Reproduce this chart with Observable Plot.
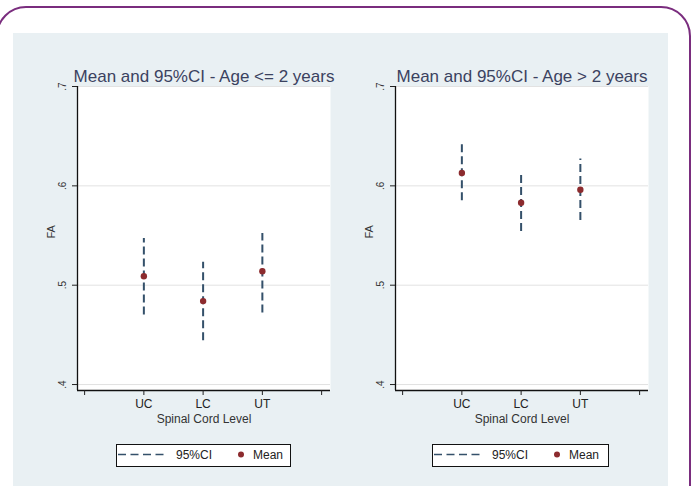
<!DOCTYPE html>
<html><head><meta charset="utf-8">
<script src="https://cdn.jsdelivr.net/npm/d3@7"></script>
<script src="https://cdn.jsdelivr.net/npm/@observablehq/plot@0.6"></script>
<style>
html,body{margin:0;padding:0;background:#fff;overflow:hidden;}
#root{position:relative;width:696px;height:486px;overflow:hidden;font-family:"Liberation Sans",Arial,sans-serif;}
#border{position:absolute;left:-4px;top:6px;width:695px;height:530px;border:2px solid #7a2d7e;border-radius:30px;box-sizing:border-box;}
#panel{position:absolute;left:13px;top:33px;width:655px;height:470px;background:#e9f0f3;}
.legend{position:absolute;top:444px;height:23px;box-sizing:border-box;border:1.5px solid #111;background:#fff;}
.legend svg{display:block;}
</style></head><body><div id="root"><div id="border"></div><div id="panel"></div></div>
<script>
const levels = ["UC", "LC", "UT"];
const meanYoung = [0.509, 0.484, 0.514];
const lowYoung = [0.470, 0.444, 0.472];
const highYoung = [0.547, 0.523, 0.552];
const meanOld = [0.613, 0.583, 0.596];
const lowOld = [0.585, 0.554, 0.565];
const highOld = [0.642, 0.612, 0.627];
const titles = ["Mean and 95%CI - Age <= 2 years", "Mean and 95%CI - Age > 2 years"];
const yTicks = [0.4, 0.5, 0.6, 0.7];
const xTicks = [0, 1, 2, 3, 4];
const yLabel = "FA";
const xLabel = "Spinal Cord Level";
const legendItems = ["95%CI", "Mean"];

const ciColor = "#34506a", meanColor = "#8c2b2e";
const root = document.getElementById("root");

function panel(title, mean, low, high, left) {
  const rows = levels.map((l, i) => ({pos: i + 1, level: l, mean: mean[i], low: low[i], high: high[i]}));
  const yDomain = [0.394, 0.7];
  const xDomain = [-0.12, 4.15];
  const svg = Plot.plot({
    width: 327, height: 395,
    marginLeft: 64, marginRight: 10, marginTop: 46, marginBottom: 45,
    style: {background: "transparent", fontFamily: "Liberation Sans, Arial, sans-serif", color: "#222", overflow: "visible"},
    x: {domain: xDomain},
    y: {domain: yDomain},
    marks: [
      Plot.frame({fill: "white", stroke: null}),
      Plot.gridY(yTicks, {stroke: "#e2e2e2", strokeOpacity: 1}),
      Plot.ruleX(rows, {x: "pos", y1: "low", y2: "high", stroke: ciColor, strokeWidth: 2, strokeDasharray: "8,4"}),
      Plot.dot(rows, {x: "pos", y: "mean", r: 3.2, fill: meanColor, stroke: null}),
      Plot.ruleX([xDomain[0]], {stroke: "#111", strokeWidth: 1.3}),
      Plot.ruleY([yDomain[0]], {stroke: "#111", strokeWidth: 1.3}),
      Plot.axisY(yTicks, {tickSize: 5, tickFormat: () => "", label: null}),
      Plot.text(yTicks, {y: d => d, text: d => d3.format(".1f")(d).replace(/^0/, ""), frameAnchor: "left", dx: -15, rotate: -90, textAnchor: "middle", fontSize: 10, fill: "#333"}),
      Plot.axisX(xTicks, {tickSize: 5, tickFormat: d => levels[d - 1] ?? "", fontSize: 12, label: null}),
      Plot.text([yLabel], {frameAnchor: "left", dx: -26, rotate: -90, fontSize: 11, fill: "#333"}),
      Plot.text([xLabel], {frameAnchor: "bottom", dy: 32, fontSize: 12, fill: "#333"}),
      Plot.text([title], {frameAnchor: "top", dy: -17, fontSize: 17, fill: "#3b4260"})
    ]
  });
  svg.style.position = "absolute";
  svg.style.left = left + "px";
  svg.style.top = "40px";
  root.appendChild(svg);
}

function legend(left, width) {
  const div = document.createElement("div");
  div.className = "legend";
  div.style.left = left + "px";
  div.style.width = width + "px";
  const svg = d3.select(div).append("svg").attr("width", width - 3).attr("height", 20)
    .style("font-family", "Liberation Sans, Arial, sans-serif").style("font-size", "12px");
  svg.append("line").attr("x1", 1).attr("x2", 47).attr("y1", 9.5).attr("y2", 9.5)
    .attr("stroke", ciColor).attr("stroke-width", 1.5).attr("stroke-dasharray", "8,4.5");
  svg.append("text").attr("x", 59).attr("y", 14).attr("fill", "#222").text(legendItems[0]);
  svg.append("circle").attr("cx", 124).attr("cy", 9.5).attr("r", 3).attr("fill", meanColor);
  svg.append("text").attr("x", 136).attr("y", 14).attr("fill", "#222").text(legendItems[1]);
  root.appendChild(div);
}

panel(titles[0], meanYoung, lowYoung, highYoung, 13);
panel(titles[1], meanOld, lowOld, highOld, 331);
legend(116, 175);
legend(432, 177);
</script></body></html>
